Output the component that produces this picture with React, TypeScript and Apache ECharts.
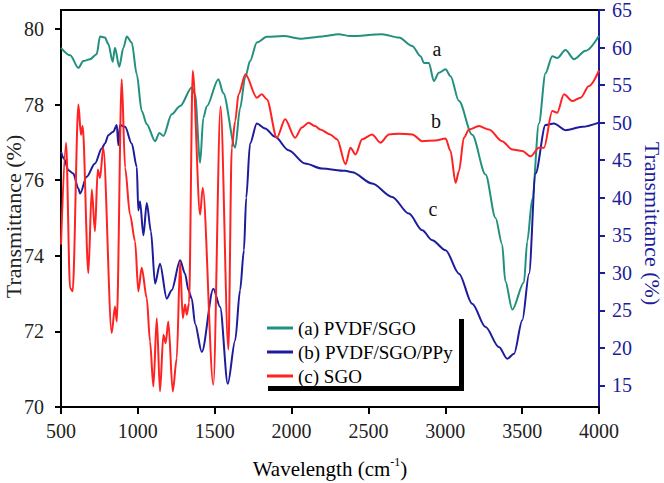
import React, { useEffect, useRef } from "react";
import * as echarts from "echarts";

// Wavenumber (cm-1) / transmittance pairs
const seriesNames = ["(a) PVDF/SGO", "(b) PVDF/SGO/PPy", "(c) SGO"];

const pvdfSgo: [number, number][] = [
  [500, 79.5], [560, 79.3], [613, 78.97], [645, 79.15], [689, 79.2], [732, 79.33], [754, 79.8],
  [786, 79.77], [808, 79.6], [836, 79.13], [851, 79.5], [879, 79.0], [906, 79.5], [928, 79.8],
  [960, 79.64], [993, 78.8], [1025, 77.83], [1058, 77.48], [1112, 77.03], [1140, 77.25],
  [1166, 77.17], [1220, 77.74], [1275, 77.96], [1351, 78.45], [1372, 78.27], [1405, 76.46],
  [1426, 77.65], [1448, 77.95], [1524, 78.67], [1556, 78.3], [1633, 76.86], [1665, 77.9],
  [1698, 78.71], [1730, 79.15], [1774, 79.64], [1839, 79.79], [1947, 79.81], [2067, 79.74],
  [2200, 79.8], [2305, 79.86], [2383, 79.81], [2589, 79.86], [2698, 79.77], [2785, 79.55],
  [2839, 79.28], [2861, 79.1], [2893, 79.1], [2926, 78.62], [2958, 78.84], [3002, 78.93],
  [3034, 78.75], [3089, 78.09], [3175, 77.2], [3262, 76.15], [3327, 75.0], [3370, 74.3],
  [3390, 73.34], [3436, 72.58], [3512, 73.3], [3533, 74.38], [3566, 75.5], [3609, 77.5],
  [3652, 78.83], [3696, 79.28], [3728, 79.23], [3782, 79.44], [3837, 79.2], [3913, 79.42],
  [4000, 79.82],
];

const pvdfSgoPpy: [number, number][] = [
  [500, 46.1], [520, 45.2], [548, 43.67], [580, 43.22], [613, 41.22], [624, 40.56], [667, 42.78],
  [721, 44.56], [765, 46.56], [786, 47.22], [808, 48.33], [840, 48.8], [863, 49.67], [873, 47.0],
  [884, 49.67], [917, 49.44], [960, 47.22], [993, 44.11], [1003, 38.3], [1014, 39.5],
  [1036, 35.0], [1058, 39.3], [1085, 35.5], [1112, 28.56], [1144, 31.22], [1188, 26.56],
  [1220, 27.67], [1275, 31.67], [1307, 29.89], [1329, 27.67], [1351, 26.56], [1372, 23.22],
  [1416, 19.44], [1491, 27.89], [1535, 25.44], [1585, 15.22], [1633, 21.0], [1665, 27.7],
  [1690, 33.0], [1705, 40.0], [1730, 47.22], [1774, 49.89], [1828, 49.22], [1893, 48.11],
  [1980, 46.33], [2088, 44.56], [2197, 43.89], [2349, 43.58], [2394, 43.4], [2524, 41.89],
  [2654, 40.11], [2763, 37.89], [2850, 35.67], [2915, 34.33], [3002, 33.0], [3089, 29.89],
  [3175, 25.89], [3262, 22.78], [3349, 20.11], [3403, 18.56], [3447, 19.22], [3501, 23.67],
  [3545, 29.89], [3587, 43.22], [3652, 49.67], [3707, 49.89], [3782, 49.0], [3891, 49.44],
  [4000, 50.0],
];

const sgo: [number, number][] = [
  [500, 74.3], [533, 76.99], [559, 73.15], [576, 73.06], [613, 78.0], [630, 77.2], [641, 77.43],
  [678, 73.54], [700, 75.75], [721, 74.65], [739, 76.28], [754, 76.06], [775, 76.86],
  [830, 71.96], [851, 72.66], [863, 72.26], [895, 78.67], [917, 76.33], [949, 75.09],
  [982, 74.38], [1003, 73.06], [1025, 73.68], [1058, 72.88], [1079, 71.74], [1101, 70.54],
  [1123, 72.35], [1144, 70.41], [1166, 71.91], [1181, 71.69], [1198, 72.26], [1227, 70.41],
  [1253, 71.29], [1275, 73.85], [1292, 72.35], [1307, 72.71], [1318, 72.44], [1333, 72.75],
  [1357, 78.89], [1405, 75.09], [1422, 75.8], [1491, 70.59], [1538, 77.95], [1589, 71.52],
  [1611, 76.86], [1633, 77.56], [1655, 78.27], [1700, 78.8], [1774, 78.18], [1806, 78.27],
  [1839, 78.14], [1904, 77.12], [1958, 77.61], [2023, 77.12], [2067, 77.39], [2110, 77.52],
  [2153, 77.43], [2186, 77.34], [2251, 77.21], [2296, 77.08], [2351, 76.42], [2383, 76.86],
  [2416, 76.68], [2459, 77.08], [2524, 77.21], [2578, 76.99], [2633, 77.21], [2698, 77.23],
  [2785, 77.21], [2850, 77.03], [2936, 77.05], [3002, 77.1], [3034, 76.77], [3067, 75.93],
  [3089, 76.24], [3121, 77.12], [3154, 77.34], [3219, 77.43], [3284, 77.34], [3370, 77.03],
  [3436, 76.81], [3501, 76.77], [3555, 76.63], [3609, 76.86], [3642, 76.86], [3696, 77.83],
  [3728, 77.78], [3772, 78.27], [3826, 78.09], [3880, 78.18], [3935, 78.49], [4000, 78.9],
];

const leftTicks = [70, 72, 74, 76, 78, 80];
const rightTicks = [15, 20, 25, 30, 35, 40, 45, 50, 55, 60, 65];
const curveLabels = ["a", "b", "c"];

const FONT = "Liberation Serif";
const TEAL = "#23907f";
const NAVY = "#1c1c9c";
const RED = "#ff2222";

export default function App() {
  const ref = useRef<HTMLDivElement>(null);
  useEffect(() => {
    if (!ref.current) return;
    const chart = echarts.init(ref.current, null, { renderer: "svg" });
    const lineSeries = (name: string, data: [number, number][], color: string, yIdx: number) => ({
      name,
      type: "line",
      yAxisIndex: yIdx,
      data,
      showSymbol: false,
      smooth: 0.3,
      smoothMonotone: "x",
      lineStyle: { color, width: 2 },
      itemStyle: { color },
    });
    chart.setOption({
      animation: false,
      textStyle: { fontFamily: FONT },
      grid: {
        left: 61, right: 65, top: 10, bottom: 76,
        containLabel: false,
        outerBoundsMode: "none",
        show: true, borderColor: "#000", borderWidth: 2, backgroundColor: "transparent",
      },
      legend: {
        orient: "vertical",
        left: 267,
        top: 318,
        padding: 0,
        itemGap: 4,
        itemWidth: 26,
        itemHeight: 3,
        icon: "rect",
        data: seriesNames,
        textStyle: { fontFamily: FONT, fontSize: 19, color: "#000", lineHeight: 20 },
      },
      xAxis: {
        type: "value",
        min: 500,
        max: 4000,
        interval: 500,
        name: "Wavelength (cm{sup|-1})",
        nameLocation: "middle",
        nameGap: 49,
        nameMoveOverlap: false,
        nameTextStyle: {
          fontFamily: FONT, fontSize: 21, color: "#000", lineHeight: 26,
          rich: { sup: { fontFamily: FONT, fontSize: 12, verticalAlign: "top", color: "#000" } },
        },
        axisLine: { lineStyle: { color: "#000", width: 2 } },
        axisTick: { inside: false, length: 7, lineStyle: { color: "#000", width: 2 } },
        axisLabel: { fontFamily: FONT, fontSize: 20, color: "#222", margin: 14, formatter: (v: number) => String(v) },
        splitLine: { show: false },
      },
      yAxis: [
        {
          type: "value",
          min: 70,
          max: 80.5,
          position: "left",
          name: "Transmittance (%)",
          nameLocation: "middle",
          nameGap: 37,
          nameMoveOverlap: false,
          nameTextStyle: { fontFamily: FONT, fontSize: 22, color: "#222", padding: [0, 16, 0, 0] },
          axisLine: { show: true, lineStyle: { color: "#000", width: 2 } },
          axisTick: { length: 6, lineStyle: { color: "#000", width: 2 }, customValues: leftTicks },
          axisLabel: { fontFamily: FONT, fontSize: 20, color: "#222", margin: 17, customValues: leftTicks, formatter: (v: number) => String(v) },
          splitLine: { show: false },
        },
        {
          type: "value",
          min: 12.13,
          max: 65,
          position: "right",
          name: "Transmittance (%)",
          nameLocation: "middle",
          nameRotate: -90,
          nameGap: 42,
          nameMoveOverlap: false,
          nameTextStyle: { fontFamily: FONT, fontSize: 22, color: NAVY, padding: [0, 0, 0, 30] },
          axisLine: { show: true, lineStyle: { color: NAVY, width: 2 } },
          axisTick: { length: 6, lineStyle: { color: NAVY, width: 2 }, customValues: rightTicks },
          axisLabel: { fontFamily: FONT, fontSize: 20, color: NAVY, margin: 13, customValues: rightTicks, formatter: (v: number) => String(v) },
          splitLine: { show: false },
        },
      ],
      graphic: [
        { type: "rect", shape: { x: 268, y: 386, width: 196, height: 5 }, style: { fill: "#000" } },
        { type: "rect", shape: { x: 459, y: 319, width: 5, height: 72 }, style: { fill: "#000" } },
        { type: "text", x: 437, y: 49, style: { text: curveLabels[0], font: `20px ${FONT}`, fill: "#111", align: "center", verticalAlign: "middle" } },
        { type: "text", x: 436, y: 121, style: { text: curveLabels[1], font: `20px ${FONT}`, fill: "#111", align: "center", verticalAlign: "middle" } },
        { type: "text", x: 433, y: 209, style: { text: curveLabels[2], font: `20px ${FONT}`, fill: "#111", align: "center", verticalAlign: "middle" } },
      ],
      series: [
        lineSeries(seriesNames[0], pvdfSgo, TEAL, 0),
        lineSeries(seriesNames[1], pvdfSgoPpy, NAVY, 1),
        lineSeries(seriesNames[2], sgo, RED, 0),
      ],
    });
    return () => chart.dispose();
  }, []);
  return <div ref={ref} style={{ position: "fixed", left: 0, top: 0, width: 664, height: 483, background: "#fff" }} />;
}
